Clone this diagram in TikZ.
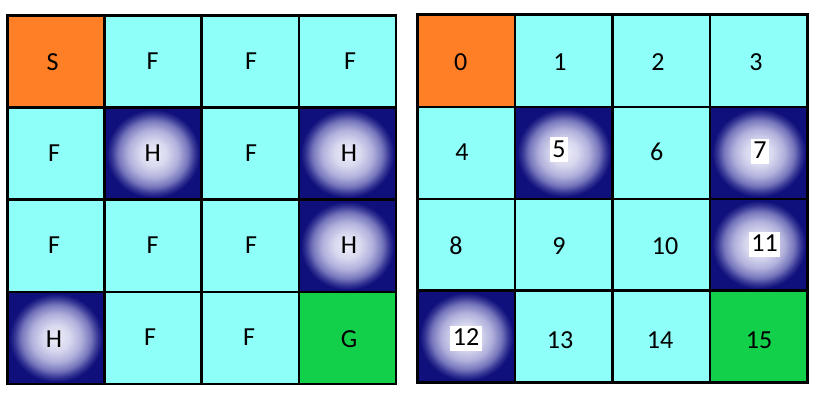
\documentclass[tikz,border=0pt]{standalone}
\usepackage{fontspec}
\setmainfont{Carlito}
\definecolor{cOrange}{RGB}{255,127,39}
\definecolor{cCyan}{RGB}{143,255,250}
\definecolor{cGreen}{RGB}{18,208,74}
\definecolor{cNavy}{RGB}{16,16,124}
\definecolor{hA}{RGB}{238,238,250}
\definecolor{hB}{RGB}{216,216,239}
\definecolor{hC}{RGB}{176,176,220}
\definecolor{hD}{RGB}{118,118,188}
\definecolor{hE}{RGB}{52,52,148}
\pgfdeclareradialshading{holeshade}{\pgfpoint{0bp}{0bp}}{color(0bp)=(hA); color(7bp)=(hB); color(13bp)=(hC); color(18bp)=(hD); color(21.5bp)=(hE); color(24bp)=(cNavy); color(50bp)=(cNavy)}
\begin{document}
\begin{tikzpicture}[x=1pt,y=-1pt,
  kS/.style={fill=cOrange},
  kF/.style={fill=cCyan},
  kG/.style={fill=cGreen},
  kH/.style={shade,shading=holeshade},
  gridline/.style={draw=black,line width=2.5pt},
  lab/.style={font=\fontsize{26}{30}\selectfont, text height=17pt, text depth=0pt, inner sep=0pt},
  boxlab/.style={lab, fill=white, text height=18pt, text depth=3pt, inner xsep=2.5pt, inner ysep=2pt}]
\useasboundingbox (0,0) rectangle (828,401);
% cell fills
\foreach \t [count=\i from 0] in {S,F,F,F,F,H,F,H,F,F,F,H,H,F,F,G} {
  \pgfmathtruncatemacro\c{mod(\i,4)}
  \pgfmathtruncatemacro\r{div(\i,4)}
  \path[kF] ({7.5+97.1*\c},{15.5+92.1*\r}) rectangle ++(97.1,92.1);
  \path[kF] ({417.7+97.5*\c},{15+91.9*\r}) rectangle ++(97.5,91.9);
  \path[k\t] ({7.5+97.1*\c},{15.5+92.1*\r}) rectangle ++(97.1,92.1);
  \path[k\t] ({417.7+97.5*\c},{15+91.9*\r}) rectangle ++(97.5,91.9);
}
% grid lines
\foreach \c in {0,...,3} \foreach \r in {0,...,3} {
  \draw[gridline] ({7.5+97.1*\c},{15.5+92.1*\r}) rectangle ++(97.1,92.1);
  \draw[gridline] ({417.7+97.5*\c},{15+91.9*\r}) rectangle ++(97.5,91.9);
}
\draw[draw=black,line width=3pt] (417.7,15) rectangle (807.7,382.6);
% left labels
\node[lab] (L0) at (52.5,62) {S};
\node[lab] (L1) at (152.7,61) {F};
\node[lab] (L2) at (251,61) {F};
\node[lab] (L3) at (350,61) {F};
\node[lab] (L4) at (54,153) {F};
\node[lab] (L5) at (152.7,153) {H};
\node[lab] (L6) at (251,153) {F};
\node[lab] (L7) at (349,153) {H};
\node[lab] (L8) at (54,245) {F};
\node[lab] (L9) at (152.5,245) {F};
\node[lab] (L10) at (251,245) {F};
\node[lab] (L11) at (349,245) {H};
\node[lab] (L12) at (54,339) {H};
\node[lab] (L13) at (150,337) {F};
\node[lab] (L14) at (249,337) {F};
\node[lab] (L15) at (349,339) {G};
% right labels
\node[lab] (R0) at (460.7,62) {0};
\node[lab] (R1) at (560,62) {1};
\node[lab] (R2) at (658,62) {2};
\node[lab] (R3) at (756,62) {3};
\node[lab] (R4) at (462,152) {4};
\node[boxlab] (R5) at (559,150) {5};
\node[lab] (R6) at (656.7,152) {6};
\node[boxlab] (R7) at (760,151.5) {7};
\node[lab] (R8) at (456,246) {8};
\node[lab] (R9) at (559,246) {9};
\node[lab] (R10) at (665,246) {10};
\node[boxlab] (R11) at (764.5,244) {11};
\node[boxlab] (R12) at (466,338) {12};
\node[lab] (R13) at (560,340) {13};
\node[lab] (R14) at (660,340) {14};
\node[lab] (R15) at (759,340) {15};
\end{tikzpicture}
\end{document}
